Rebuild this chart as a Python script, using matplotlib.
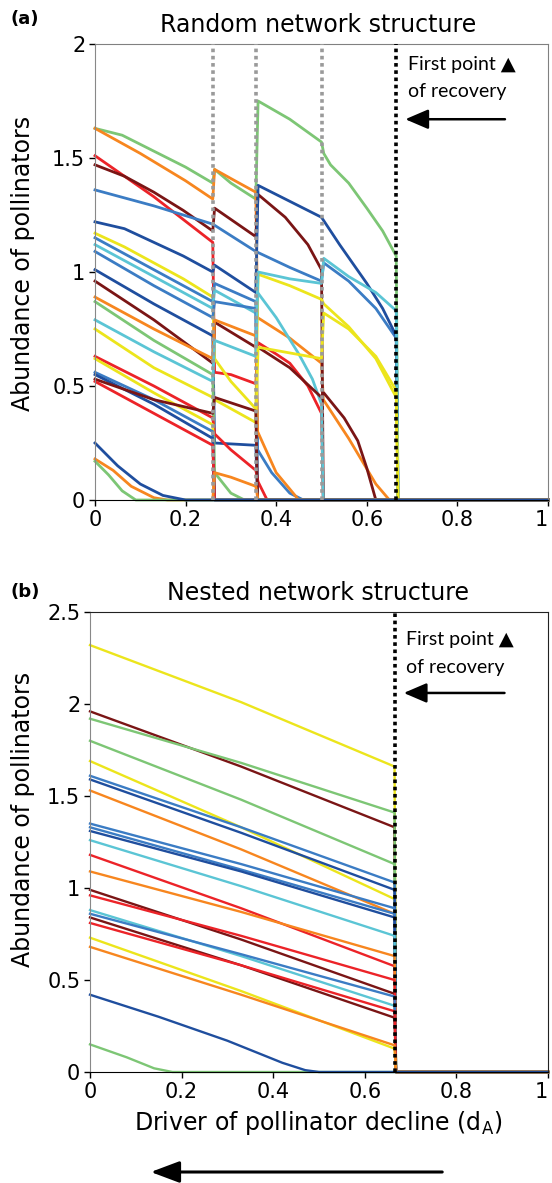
import matplotlib
matplotlib.use("Agg")
import matplotlib.pyplot as plt
from matplotlib.patches import FancyArrowPatch

# colours used for the species
DB = '#1f4e9e'
B = '#3b7cc4'
C = '#5bc5d5'
G = '#7dc675'
Y = '#ece51c'
O = '#f7861f'
R = '#ec2328'
DR = '#7a1515'

# ---------------- panel (a): random network ----------------
rand_colors = [G, O, R, DR, B, DB, Y, B, C, B, DB, DR, O, G, C, Y, R, Y, B, DB, DR, R, O, G, DB]
rand_x = [
    [0, 0.06, 0.13, 0.2, 0.26, 0.264, 0.3, 0.355, 0.36, 0.43, 0.5, 0.505, 0.52, 0.56, 0.6, 0.635, 0.665, 0.669, 1],
    [0, 0.1, 0.2, 0.26, 0.264, 0.3, 0.355, 0.359, 0.43, 0.5, 0.504, 0.56, 0.62, 0.65, 1],
    [0, 0.13, 0.26, 0.264, 0.3, 0.355, 0.36, 0.40, 0.43, 0.47, 0.5, 0.504, 1],
    [0, 0.065, 0.13, 0.195, 0.26, 0.264, 0.355, 0.36, 0.42, 0.47, 0.5, 0.504, 1],
    [0, 0.13, 0.26, 0.355, 0.43, 0.5, 0.505, 0.56, 0.62, 0.665, 0.669, 1],
    [0, 0.065, 0.13, 0.195, 0.26, 0.264, 0.355, 0.36, 0.43, 0.5, 0.54, 0.6, 0.635, 0.665, 0.669, 1],
    [0, 0.065, 0.13, 0.195, 0.26, 0.264, 0.3, 0.355, 0.36, 0.43, 0.5, 0.505, 0.56, 0.62, 0.665, 0.669, 1],
    [0, 0.13, 0.26, 0.264, 0.355, 0.359, 0.39, 0.43, 0.46, 1],
    [0, 0.13, 0.26, 0.264, 0.355, 0.359, 0.4, 0.45, 0.48, 0.5, 0.504, 1],
    [0, 0.13, 0.26, 0.264, 0.355, 0.359, 1],
    [0, 0.13, 0.26, 0.264, 0.355, 0.359, 1],
    [0, 0.13, 0.26, 0.264, 0.355, 0.36, 0.43, 0.5, 0.505, 0.55, 0.58, 0.6, 0.62, 1],
    [0, 0.13, 0.26, 0.264, 0.355, 0.359, 0.4, 0.45, 1],
    [0, 0.13, 0.26, 0.264, 0.3, 0.33, 1],
    [0, 0.13, 0.26, 0.264, 0.355, 0.36, 0.43, 0.5, 0.505, 0.56, 0.62, 0.665, 0.669, 1],
    [0, 0.13, 0.26, 0.264, 0.355, 0.36, 0.5, 0.505, 0.56, 0.62, 0.665, 0.669, 1],
    [0, 0.13, 0.26, 0.264, 0.3, 0.355, 0.36, 0.38, 1],
    [0, 0.13, 0.26, 0.264, 1],
    [0, 0.13, 0.26, 0.264, 1],
    [0, 0.13, 0.26, 0.264, 1],
    [0, 0.13, 0.26, 0.264, 0.355, 0.359, 1],
    [0, 0.13, 0.26, 0.264, 1],
    [0, 0.04, 0.08, 0.13, 0.16, 0.26, 0.264, 0.3, 0.355, 0.36, 1],
    [0, 0.03, 0.06, 0.09, 1],
    [0, 0.05, 0.1, 0.15, 0.2, 1],
]
rand_y = [
    [1.63, 1.60, 1.53, 1.46, 1.39, 1.45, 1.39, 1.32, 1.75, 1.67, 1.57, 1.52, 1.47, 1.39, 1.28, 1.18, 1.07, 0, 0],
    [1.63, 1.52, 1.40, 1.32, 1.45, 1.41, 1.35, 0.80, 0.71, 0.60, 0.44, 0.27, 0.07, 0, 0],
    [1.51, 1.33, 1.13, 0.56, 0.55, 0.51, 0.69, 0.64, 0.60, 0.50, 0.38, 0, 0],
    [1.47, 1.42, 1.35, 1.27, 1.18, 1.28, 1.155, 1.34, 1.24, 1.12, 1.01, 0, 0],
    [1.36, 1.29, 1.21, 1.09, 1.02, 0.96, 1.04, 0.96, 0.84, 0.71, 0, 0],
    [1.22, 1.19, 1.13, 1.07, 1.00, 1.03, 0.91, 1.38, 1.31, 1.24, 1.12, 0.95, 0.84, 0.72, 0, 0],
    [1.17, 1.11, 1.04, 0.97, 0.89, 0.62, 0.52, 0.40, 0.99, 0.94, 0.88, 0.86, 0.76, 0.62, 0.45, 0, 0],
    [1.15, 1.01, 0.87, 0.95, 0.87, 0.22, 0.12, 0.03, 0, 0],
    [1.12, 0.98, 0.84, 0.92, 0.82, 0.91, 0.80, 0.64, 0.53, 0.42, 0, 0],
    [1.09, 0.94, 0.80, 0.87, 0.84, 0, 0],
    [1.01, 0.86, 0.72, 0.25, 0.24, 0, 0],
    [0.96, 0.79, 0.60, 0.78, 0.67, 0.67, 0.58, 0.45, 0.47, 0.36, 0.26, 0.14, 0, 0],
    [0.89, 0.75, 0.62, 0.79, 0.72, 0.30, 0.12, 0, 0],
    [0.87, 0.70, 0.55, 0.12, 0.03, 0, 0],
    [0.79, 0.65, 0.52, 0.70, 0.63, 1.00, 0.97, 0.95, 1.06, 0.98, 0.91, 0.83, 0, 0],
    [0.75, 0.58, 0.45, 0.44, 0.34, 0.67, 0.62, 0.82, 0.75, 0.63, 0.48, 0, 0],
    [0.63, 0.50, 0.36, 0.29, 0.22, 0.13, 0.08, 0, 0],
    [0.62, 0.47, 0.33, 0, 0],
    [0.56, 0.44, 0.30, 0, 0],
    [0.55, 0.42, 0.27, 0, 0],
    [0.53, 0.44, 0.38, 0.45, 0.39, 0, 0],
    [0.52, 0.38, 0.24, 0, 0],
    [0.18, 0.13, 0.06, 0.01, 0, 0, 0.12, 0.10, 0.06, 0, 0],
    [0.17, 0.11, 0.04, 0, 0],
    [0.25, 0.15, 0.07, 0.02, 0, 0],
]
rand_collapse = [0.26, 0.355, 0.5]
recovery_x = 0.665

# ---------------- panel (b): nested network ----------------
nest_colors = [Y, DR, G, G, Y, B, DB, O, B, B, DB, C, R, O, DR, R, C, B, DR, R, Y, O]
nest_start = [2.32, 1.96, 1.92, 1.80, 1.69, 1.61, 1.59, 1.53, 1.35, 1.33, 1.31, 1.26, 1.18, 1.09,
              0.99, 0.96, 0.88, 0.86, 0.84, 0.81, 0.73, 0.68]
nest_mid = [2.01, 1.66, 1.68, 1.48, 1.33, 1.33, 1.30, 1.21, 1.13, 1.10, 1.09, 1.01, 0.89, 0.87,
            0.72, 0.74, 0.63, 0.64, 0.58, 0.58, 0.44, 0.42]
nest_end = [1.66, 1.33, 1.41, 1.13, 0.94, 1.03, 0.99, 0.86, 0.89, 0.86, 0.84, 0.74, 0.575, 0.63,
            0.425, 0.50, 0.36, 0.41, 0.295, 0.33, 0.127, 0.145]
nest_x = [0, 0.33, 0.665, 0.668, 1]
# the two species that die out early
nest_low_colors = [G, DB]
nest_low_x = [[0, 0.08, 0.14, 0.18, 1], [0, 0.15, 0.3, 0.42, 0.47, 0.5, 1]]
nest_low_y = [[0.15, 0.08, 0.02, 0, 0], [0.42, 0.30, 0.17, 0.05, 0.01, 0, 0]]

W, H = 552, 1183
fig = plt.figure(figsize=(W / 100, H / 100), dpi=100)
plt.rcParams['font.family'] = ['DejaVu Sans']

def px(l, t, r, b):
    return [l / W, 1 - b / H, (r - l) / W, (b - t) / H]

axA = fig.add_axes(px(95, 44, 548, 500))
axB = fig.add_axes(px(90, 612, 548, 1072))

for i in range(len(rand_colors)):
    axA.plot(rand_x[i], rand_y[i], color=rand_colors[i], lw=2.0, clip_on=False,
             solid_joinstyle='round', zorder=2)

for i in range(len(nest_colors)):
    ys = [nest_start[i], nest_mid[i], nest_end[i], 0, 0]
    axB.plot(nest_x, ys, color=nest_colors[i], lw=1.7, clip_on=False, zorder=2)
for i in range(len(nest_low_colors)):
    axB.plot(nest_low_x[i], nest_low_y[i], color=nest_low_colors[i], lw=1.7, clip_on=False, zorder=2)

for xc in rand_collapse:
    axA.axvline(xc, color='#9a9a9a', lw=2.6, ls=(0, (1, 1)), zorder=3)
axA.axvline(recovery_x, color='k', lw=2.6, ls=(0, (1, 1)), zorder=3)
axB.axvline(recovery_x, color='k', lw=2.6, ls=(0, (1, 1)), zorder=3)

for ax, ymax, frame in [(axA, 2, '#808080'), (axB, 2.5, '#222222')]:
    ax.set_xlim(0, 1)
    ax.set_ylim(0, ymax)
    ax.set_xticks([0, 0.2, 0.4, 0.6, 0.8, 1])
    ax.set_xticklabels(['0', '0.2', '0.4', '0.6', '0.8', '1'])
    ax.get_xticklabels()[-1].set_horizontalalignment('right')
    yt = [0, 0.5, 1, 1.5, 2, 2.5][:int(ymax * 2) + 1]
    ax.set_yticks(yt)
    ax.set_yticklabels(['%g' % v for v in yt])
    ax.tick_params(direction='out', length=4, width=1, labelsize=15, pad=3)
    for s in ['top', 'right']:
        ax.spines[s].set_color(frame)
    ax.spines['left'].set_color('#888888')
    ax.spines['bottom'].set_color('k')

# annotations
for ax, y1, y2, ya in [(axA, 1.91, 1.79, 1.67), (axB, 2.35, 2.20, 2.06)]:
    ax.text(0.69, y1, 'First point \u25B2', fontsize=14, family=['Lato', 'DejaVu Sans'],
            va='center', ha='left')
    ax.text(0.69, y2, 'of recovery', fontsize=14, family=['Lato', 'DejaVu Sans'],
            va='center', ha='left')
    ax.annotate('', xy=(0.685, ya), xytext=(0.905, ya),
                arrowprops=dict(arrowstyle='-|>,head_length=0.7,head_width=0.3',
                                lw=1.8, color='k', mutation_scale=20, shrinkA=0, shrinkB=0))

fig.text(318 / W, 1 - 32 / H, 'Random network structure', fontsize=17, ha='center', va='baseline')
fig.text(318 / W, 1 - 600 / H, 'Nested network structure', fontsize=17, ha='center', va='baseline')
fig.text(10 / W, 1 - 24 / H, '(a)', fontsize=13, fontweight='bold', ha='left', va='baseline')
fig.text(10 / W, 1 - 597 / H, '(b)', fontsize=13, fontweight='bold', ha='left', va='baseline')
fig.text(23 / W, 1 - 263 / H, 'Abundance of pollinators', fontsize=17, rotation=90,
         ha='center', va='center')
fig.text(23 / W, 1 - 819 / H, 'Abundance of pollinators', fontsize=17, rotation=90,
         ha='center', va='center')
fig.text(318 / W, 1 - 1130 / H, r'Driver of pollinator decline (d$_\mathregular{A}$)',
         fontsize=17, ha='center', va='baseline')

arr = FancyArrowPatch((445 / W, 1 - 1172 / H), (148 / W, 1 - 1172 / H), transform=fig.transFigure,
                      arrowstyle='-|>,head_length=0.8,head_width=0.3', mutation_scale=22,
                      lw=2.2, color='k')
fig.patches.append(arr)

fig.savefig('out.png', dpi=100)
